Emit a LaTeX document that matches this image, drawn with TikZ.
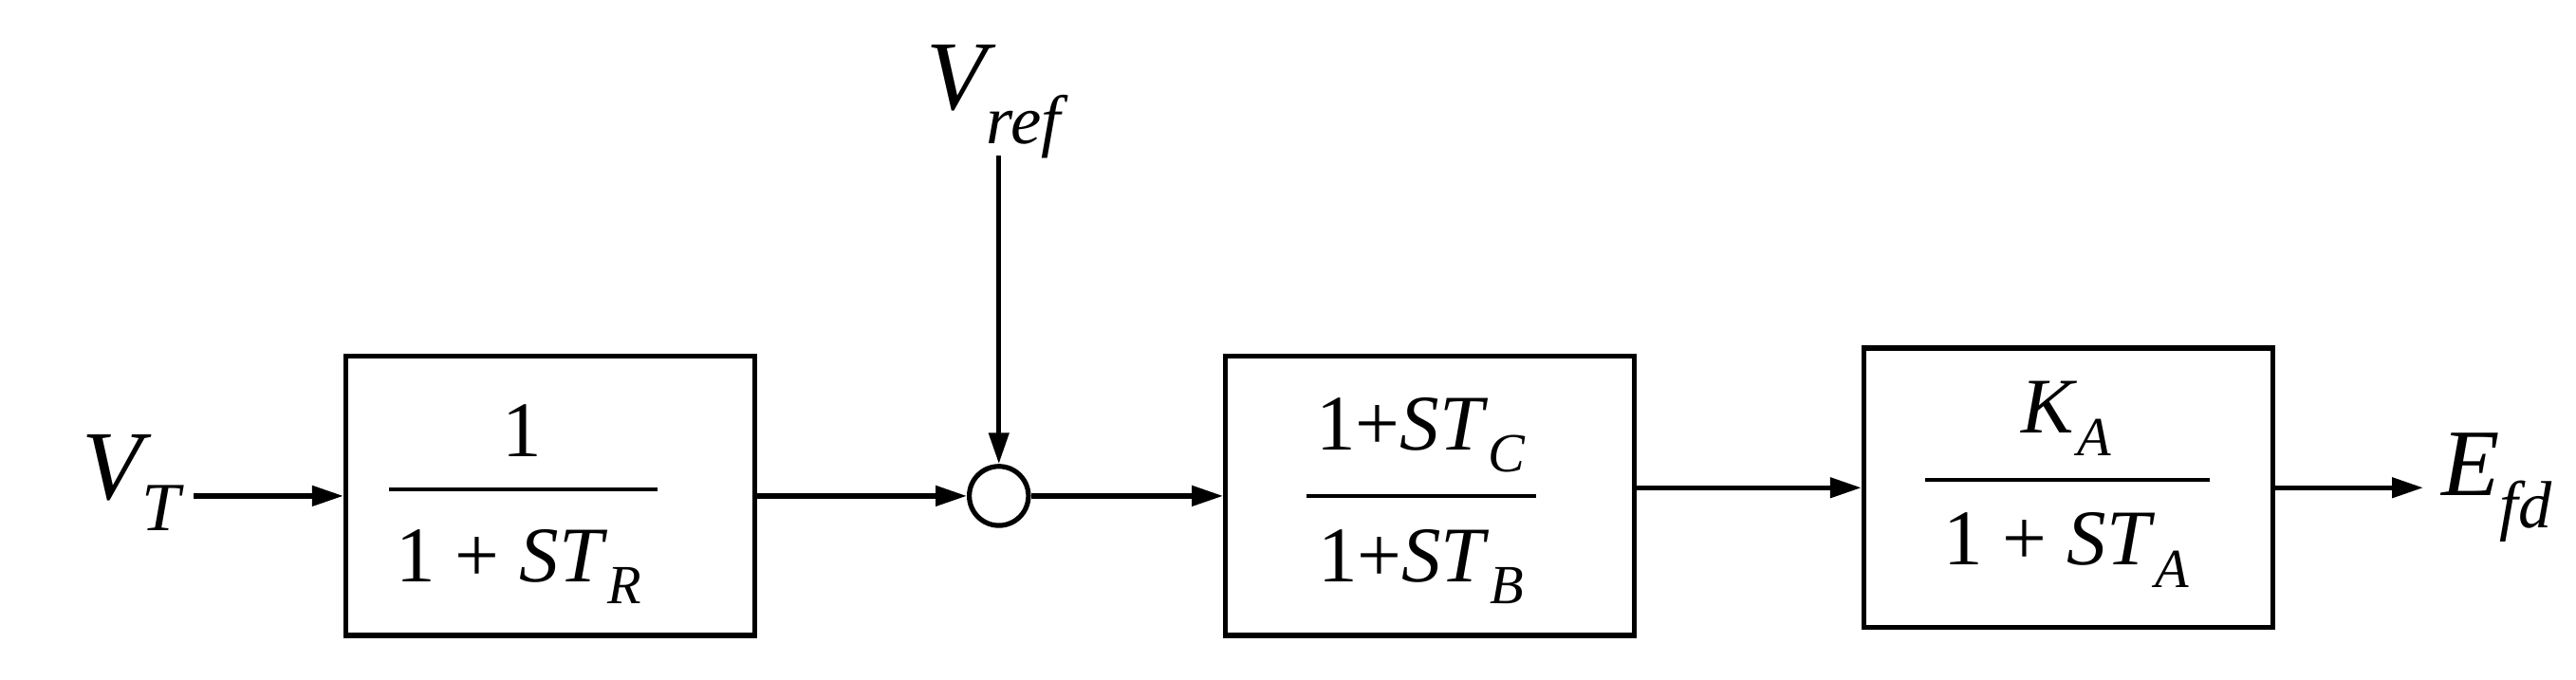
\documentclass[tikz,border=0pt]{standalone}
\usepackage{fontspec}
\setmainfont{Liberation Serif}
\usetikzlibrary{arrows.meta}
\begin{document}
\begin{tikzpicture}[x=1pt,y=-1pt,line width=3pt,
  blk/.style={draw,minimum width=249pt,minimum height=170pt,inner sep=0pt},
  sig/.style={-{Triangle[length=19pt,width=12pt]}},
  big/.style={font=\fontsize{60}{60}\selectfont\itshape},
  fr/.style={font=\fontsize{48}{48}\selectfont}]
\useasboundingbox (0,0) rectangle (1568,414);
\node[blk] (b1) at (335,302) {};
\node[blk] (b2) at (870.5,302) {};
\node[blk] (b3) at (1259,297) {};
\node[draw,circle,minimum size=36pt,inner sep=0pt] (s) at (608,302) {};
\node[big] (vt) at (80,294) {V\textsubscript{T}};
\node[big] (vr) at (605,62) {V\textsubscript{ref}};
\node[big,font=\fontsize{58}{58}\selectfont\itshape] (ef) at (1520,297) {E\textsubscript{fd}};
\coordinate (vrb) at (608,95);
\coordinate (vtr) at (118,302);
% fractions
\draw[line width=2.4pt] (237,298) -- (400,298);
\node[fr] at (318,262) {1};
\node[fr] at (316,345) {1 + \textit{ST}\textsubscript{\textit{R}}};
\draw[line width=2.4pt] (795,302) -- (935,302);
\node[fr] at (865,265) {1+\textit{ST}\textsubscript{\textit{C}}};
\node[fr] at (865,345) {1+\textit{ST}\textsubscript{\textit{B}}};
\draw[line width=2.4pt] (1172,292) -- (1345,292);
\node[fr] at (1258,255) {\textit{K}\textsubscript{\textit{A}}};
\node[fr] at (1258,335) {1 + \textit{ST}\textsubscript{\textit{A}}};
% connectors
\draw[sig] (vtr) -- (b1.west|-vtr);
\draw[sig] (b1.east) -- (s.west);
\draw[sig] (vrb) -- (s.north);
\draw[sig] (s.east) -- (b2.west);
\draw[sig] (b2.east|-b3.west) -- (b3.west);
\draw[sig] (b3.east) -- (1475,297) coordinate (ee);
\end{tikzpicture}
\end{document}
